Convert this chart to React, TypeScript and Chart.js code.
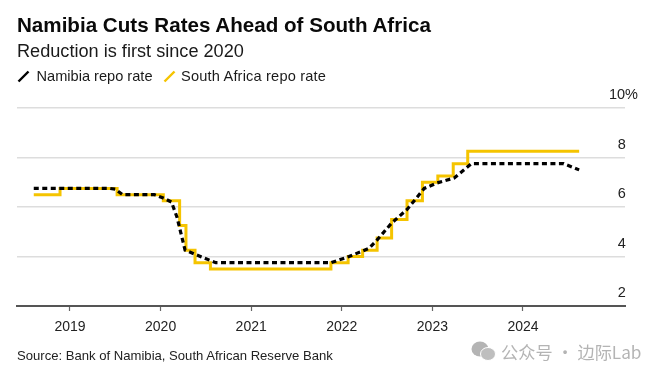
import React, { useEffect, useRef } from "react";
import { Chart, registerables } from "chart.js";

Chart.register(...registerables);

const titleText = "Namibia Cuts Rates Ahead of South Africa";
const subtitleText = "Reduction is first since 2020";
const sourceText = "Source: Bank of Namibia, South African Reserve Bank";
const watermarkText = "公众号 · 边际Lab";
const namibiaLabel = "Namibia repo rate";
const southAfricaLabel = "South Africa repo rate";

const yearTicks = [2019, 2020, 2021, 2022, 2023, 2024];
const rateTicks = [2, 4, 6, 8, 10];

const namibiaDates = [2018.6, 2019.44, 2019.5, 2019.58, 2019.93, 2020.03, 2020.12, 2020.18, 2020.27, 2020.4, 2020.61, 2021.88, 2022.08, 2022.3, 2022.39, 2022.55, 2022.72, 2022.91, 2023.05, 2023.24, 2023.43, 2024.45, 2024.62];
const namibiaRates = [6.75, 6.75, 6.72, 6.5, 6.5, 6.36, 6.2, 5.6, 4.26, 4.06, 3.75, 3.75, 4.0, 4.33, 4.67, 5.35, 5.9, 6.75, 6.97, 7.17, 7.75, 7.75, 7.5];

const southAfricaDates = [2018.6, 2018.89, 2019.52, 2020.03, 2020.21, 2020.28, 2020.38, 2020.55, 2021.88, 2022.07, 2022.23, 2022.39, 2022.55, 2022.72, 2022.89, 2023.06, 2023.23, 2023.39, 2024.62];
const southAfricaRates = [6.5, 6.75, 6.5, 6.25, 5.25, 4.25, 3.75, 3.5, 3.75, 4.0, 4.25, 4.75, 5.5, 6.25, 7.0, 7.25, 7.75, 8.25, 8.25];

const FONT = '"Liberation Sans", Arial, sans-serif';
const YELLOW = "#F5C400";

function toPoints(xs: number[], ys: number[]) {
  return xs.map((x, i) => ({ x, y: ys[i] }));
}

function LegendIcon({ color }: { color: string }) {
  return (
    <svg width="13" height="13" style={{ display: "block" }}>
      <line x1="1.5" y1="11.5" x2="11.5" y2="1.5" stroke={color} strokeWidth="2.4" />
    </svg>
  );
}

export default function App() {
  const ref = useRef<HTMLCanvasElement>(null);

  useEffect(() => {
    document.body.style.margin = "0";
    const chart = new Chart(ref.current!, {
      type: "line",
      data: {
        datasets: [
          {
            label: namibiaLabel,
            data: toPoints(namibiaDates, namibiaRates),
            borderColor: "#000000",
            borderWidth: 3.2,
            borderDash: [5, 3.5],
            pointRadius: 0,
            tension: 0,
            order: 0,
          },
          {
            label: southAfricaLabel,
            data: toPoints(southAfricaDates, southAfricaRates),
            borderColor: YELLOW,
            borderWidth: 3,
            stepped: true,
            pointRadius: 0,
            order: 1,
          },
        ],
      },
      options: {
        animation: false,
        responsive: false,
        layout: { padding: { left: 17, right: 35, top: 108, bottom: 31 } },
        plugins: { legend: { display: false }, tooltip: { enabled: false } },
        scales: {
          x: {
            type: "linear",
            min: 2018.415,
            max: 2025.126,
            afterBuildTicks: (s: any) => {
              s.ticks = yearTicks.map((value) => ({ value }));
            },
            afterFit: (s: any) => {
              s.height = 40;
            },
            grid: { drawOnChartArea: false, drawTicks: true, tickLength: 5, tickColor: "#666666", tickWidth: 1.2 },
            border: { display: true, color: "#555555", width: 2 },
            ticks: {
              autoSkip: false,
              maxRotation: 0,
              padding: 8,
              color: "#222222",
              font: { family: FONT, size: 14 },
              callback: (v: any) => String(v),
            },
          },
          y: {
            position: "right",
            min: 2,
            max: 10,
            afterBuildTicks: (s: any) => {
              s.ticks = rateTicks.map((value) => ({ value }));
            },
            afterFit: (s: any) => {
              s.width = 0;
            },
            grid: { color: "#DDDDDD", lineWidth: 1.5, drawTicks: false },
            border: { display: false },
            ticks: {
              mirror: true,
              padding: 13,
              labelOffset: -13,
              color: "#222222",
              font: { family: FONT, size: 14.5 },
              callback: (v: any) => (v === 10 ? "10%" : v + "\u00A0\u00A0\u00A0"),
            },
          },
        },
      },
    } as any);
    return () => chart.destroy();
  }, []);

  const abs = (s: React.CSSProperties): React.CSSProperties => ({
    position: "absolute",
    whiteSpace: "nowrap",
    fontFamily: FONT,
    ...s,
  });

  return (
    <div style={{ position: "relative", width: 660, height: 377, background: "#fff", overflow: "hidden" }}>
      <canvas ref={ref} width={660} height={377} style={{ position: "absolute", left: 0, top: 0 }} />
      <div style={abs({ left: 17, top: 13, fontSize: 20.6, fontWeight: 700, color: "#0a0a0a" })}>{titleText}</div>
      <div style={abs({ left: 17, top: 41, fontSize: 18.15, color: "#1a1a1a" })}>{subtitleText}</div>
      <div style={abs({ left: 17, top: 70 })}><LegendIcon color="#000000" /></div>
      <div style={abs({ left: 36.5, top: 68, fontSize: 14.6, color: "#1a1a1a" })}>{namibiaLabel}</div>
      <div style={abs({ left: 163, top: 70 })}><LegendIcon color={YELLOW} /></div>
      <div style={abs({ left: 181, top: 68, fontSize: 14.6, letterSpacing: 0.18, color: "#1a1a1a" })}>{southAfricaLabel}</div>
      <div style={abs({ left: 17, top: 347.5, fontSize: 13.1, color: "#222222" })}>{sourceText}</div>
      <svg width="26" height="24" style={{ position: "absolute", left: 471, top: 339 }}>
        <ellipse cx="9" cy="10" rx="8.5" ry="7.5" fill="#B4B4B4" />
        <ellipse cx="17" cy="15" rx="7.5" ry="6.5" fill="#BEBEBE" stroke="#fff" strokeWidth="1" />
      </svg>
      <div style={abs({ left: 501, top: 339, fontSize: 17.2, color: "#B4B4B4", fontFamily: '"Noto Sans CJK SC", "Noto Sans", sans-serif' })}>{watermarkText}</div>
    </div>
  );
}
